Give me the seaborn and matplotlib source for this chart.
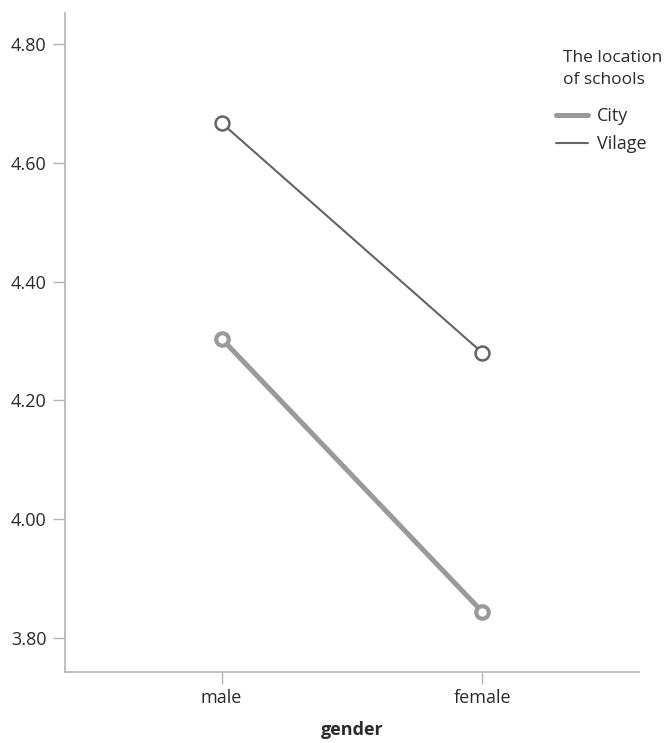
import numpy as np
import pandas as pd
import matplotlib
matplotlib.use("Agg")
import matplotlib.pyplot as plt
import seaborn as sns
from matplotlib.lines import Line2D

# --- DATA ---
gender = ["male", "female"]
locations = ["City", "Vilage"]
city_means = [4.304, 3.844]
village_means = [4.667, 4.280]
y_ticks = [3.80, 4.00, 4.20, 4.40, 4.60, 4.80]

df = pd.DataFrame({
    "gender": gender * 2,
    "location": ["City"] * 2 + ["Vilage"] * 2,
    "mean": city_means + village_means,
})

sns.set_style("white")
plt.rcParams["font.family"] = ["Open Sans", "DejaVu Sans"]

spine_col = "#b4b4b4"
text_col = "#2b2b2b"
palette = {"City": "#9a9a9c", "Vilage": "#646466"}
widths = {"City": 3.6, "Vilage": 1.5}

fig = plt.figure(figsize=(6.64, 7.43), dpi=100)
ax = fig.add_axes([65 / 664, 71 / 743, 574 / 664, 659 / 743])

sns.lineplot(data=df, x="gender", y="mean", hue="location", size="location",
             sizes=widths, palette=palette, style="location",
             markers={"City": "o", "Vilage": "o"}, dashes=False,
             sort=False, ax=ax, legend=False)

# open circles
marker_style = {"City": (9, 3.0), "Vilage": (10, 1.8)}
for line, loc in zip(ax.lines, locations):
    ms, mew = marker_style[loc]
    line.set_markerfacecolor("white")
    line.set_markeredgecolor(palette[loc])
    line.set_markersize(ms)
    line.set_markeredgewidth(mew)
    line.set_solid_capstyle("round")

ax.set_xlim(-0.6, 1.6)
ax.set_ylim(3.743, 4.852)
ax.set_yticks(y_ticks)
ax.set_yticklabels([f"{t:.2f}" for t in y_ticks])

for s in ["top", "right"]:
    ax.spines[s].set_visible(False)
for s in ["left", "bottom"]:
    ax.spines[s].set_color(spine_col)
    ax.spines[s].set_linewidth(1.2)

ax.tick_params(axis="both", which="major", length=8.5, width=1, color=spine_col,
               labelsize=13, labelcolor=text_col, left=True, bottom=True)
ax.tick_params(axis="y", pad=5)
ax.tick_params(axis="x", pad=3.5)
ax.set_ylabel("")
ax.set_xlabel("gender", fontsize=13, fontweight="bold", color=text_col, labelpad=10)

# legend: title as its own text, entries below it
fig.text(563 / 664, 1 - 50 / 743, "The location\nof schools", ha="left", va="top",
         fontsize=12.5, color=text_col, linespacing=1.5)
handles = [Line2D([], [], color=palette[l], lw=widths[l]) for l in locations]
leg = fig.legend(handles, locations, loc="upper left",
                 bbox_to_anchor=(556 / 664, 1 - 107 / 743),
                 frameon=False, fontsize=13,
                 handlelength=1.75, handletextpad=0.5, labelspacing=0.55,
                 borderpad=0, borderaxespad=0)
for t in leg.get_texts():
    t.set_color(text_col)

fig.savefig("out.png", dpi=100)
